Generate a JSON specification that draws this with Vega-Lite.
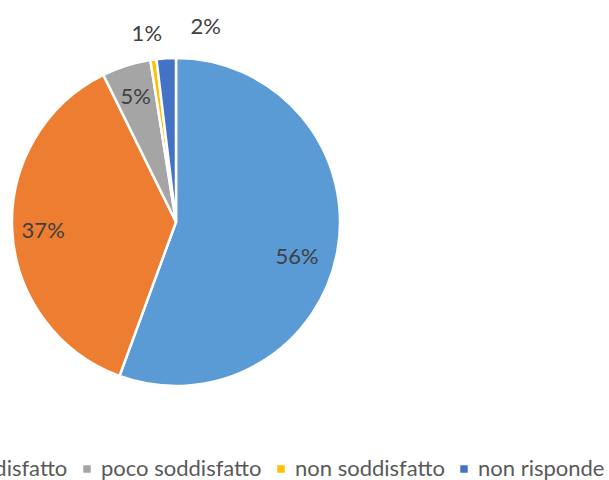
{
  "$schema": "https://vega.github.io/schema/vega-lite/v6.json",
  "autosize": "none",
  "width": 328,
  "height": 328,
  "padding": {"left": 12, "top": 58, "right": 269, "bottom": 94},
  "background": "white",
  "config": {"view": {"stroke": null}, "font": "Lato"},
  "data": {
    "values": [
      {"ord": 1, "categoria": "molto soddisfatto", "quota": 0.556},
      {"ord": 2, "categoria": "soddisfatto", "quota": 0.371},
      {"ord": 3, "categoria": "poco soddisfatto", "quota": 0.048},
      {"ord": 4, "categoria": "non soddisfatto", "quota": 0.006},
      {"ord": 5, "categoria": "non risponde", "quota": 0.019}
    ]
  },
  "encoding": {
    "theta": {"field": "quota", "type": "quantitative", "stack": true},
    "order": {"field": "ord", "type": "quantitative"}
  },
  "layer": [
    {
      "mark": {"type": "arc", "outerRadius": 164, "stroke": "white", "strokeWidth": 2.5},
      "encoding": {
        "color": {
          "field": "categoria",
          "type": "nominal",
          "sort": null,
          "scale": {
            "domain": ["molto soddisfatto", "soddisfatto", "poco soddisfatto", "non soddisfatto", "non risponde"],
            "range": ["#5B9BD5", "#ED7D31", "#A5A5A5", "#FFC000", "#4472C4"]
          },
          "legend": {
            "title": null,
            "orient": "none",
            "direction": "horizontal",
            "legendX": -280,
            "legendY": 400,
            "symbolType": "square",
            "symbolSize": 56,
            "symbolStrokeWidth": 0,
            "labelFontSize": 22,
            "labelColor": "#595959",
            "labelFont": "Lato",
            "labelOffset": 3,
            "columnPadding": 8,
            "labelLimit": 400
          }
        }
      }
    },
    {
      "mark": {"type": "text", "radius": 126, "dx": -3, "dy": 13, "fontSize": 22, "color": "#404040", "font": "Lato"},
      "encoding": {"text": {"condition": {"test": "datum.ord == 1", "field": "quota", "type": "quantitative", "format": ".0%"}, "value": ""}}
    },
    {
      "mark": {"type": "text", "radius": 133, "dy": 2, "fontSize": 22, "color": "#404040", "font": "Lato"},
      "encoding": {"text": {"condition": {"test": "datum.ord == 2 || datum.ord == 3", "field": "quota", "type": "quantitative", "format": ".0%"}, "value": ""}}
    },
    {
      "mark": {"type": "text", "radius": 190, "dx": -3, "fontSize": 22, "color": "#404040", "font": "Lato"},
      "encoding": {"text": {"condition": {"test": "datum.ord == 4", "field": "quota", "type": "quantitative", "format": ".0%"}, "value": ""}}
    },
    {
      "mark": {"type": "text", "radius": 190, "dx": 41, "dy": -5, "fontSize": 22, "color": "#404040", "font": "Lato"},
      "encoding": {"text": {"condition": {"test": "datum.ord == 5", "field": "quota", "type": "quantitative", "format": ".0%"}, "value": ""}}
    }
  ]
}
